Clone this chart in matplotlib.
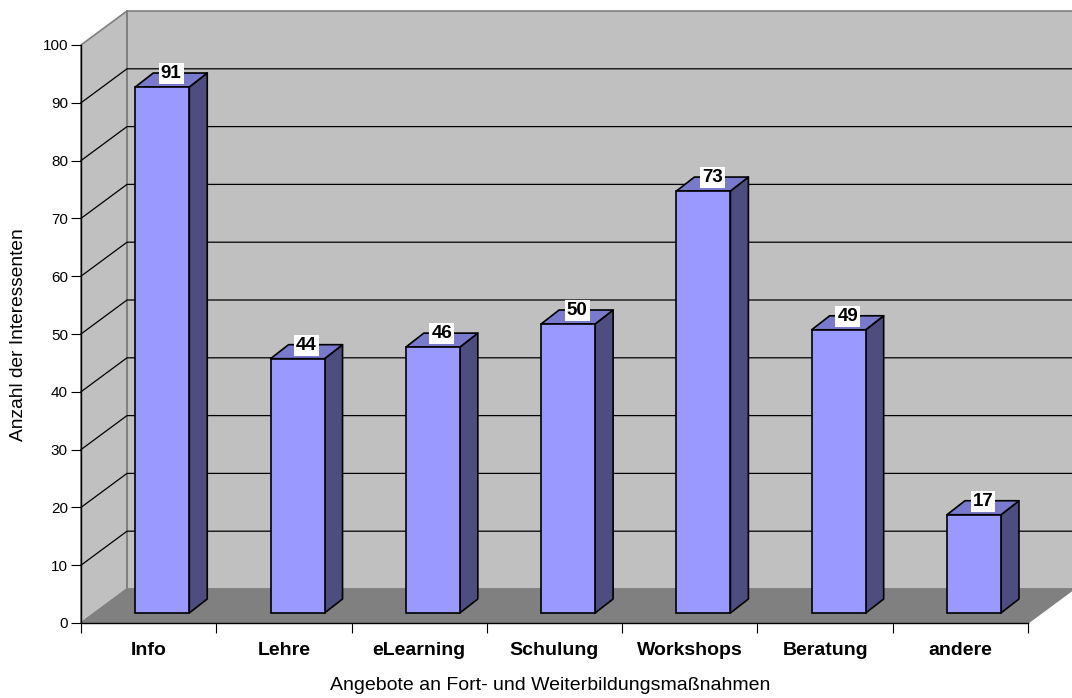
import matplotlib
matplotlib.use("Agg")
import matplotlib.pyplot as plt

plt.rcParams['font.family'] = ['Liberation Sans', 'DejaVu Sans']

categories = ["Info", "Lehre", "eLearning", "Schulung", "Workshops", "Beratung", "andere"]
values = [91, 44, 46, 50, 73, 49, 17]
y_ticks = list(range(0, 101, 10))

W, H = 1072, 698
L, R, T, B = 81, 1028, 45, 623
fig = plt.figure(figsize=(W / 100, H / 100), dpi=100, facecolor='white')
ax = fig.add_axes([L / W, 1 - B / H, (R - L) / W, (B - T) / H])
ax.set_xlim(0, len(categories))
ax.set_ylim(0, 100)
ax.patch.set_visible(False)

px = len(categories) / (R - L)   # data x per pixel
py = 100 / (B - T)               # data y per pixel
DX, DY = 46 * px, 34 * py        # depth of the plot box
bw = 54 * px                     # bar width
bdx, bdy = 18 * px, 14 * py      # bar depth
ox, oy = 13.6 * px, 10 * py      # bar offset inside depth

WALL, FLOOR, EDGE = '#C0C0C0', '#808080', '#808080'
n = len(categories)

# side wall, back wall, floor
ax.fill([0, DX, DX, 0], [0, DY, 100 + DY, 100], fc=WALL, ec=EDGE, lw=1.2, clip_on=False, zorder=1)
ax.fill([DX, n + DX, n + DX, DX], [DY, DY, 100 + DY, 100 + DY], fc=WALL, ec=EDGE, lw=1.2, clip_on=False, zorder=1)
ax.fill([0, n, n + DX, DX], [0, 0, DY, DY], fc=FLOOR, ec=EDGE, lw=1.0, clip_on=False, zorder=1.5)
ax.plot([DX, DX], [DY, 100 + DY], color=EDGE, lw=1.4, clip_on=False, zorder=1.6)

# gridlines
for v in y_ticks[1:-1]:
    ax.plot([0, DX, n + DX], [v, v + DY, v + DY], color='black', lw=0.9, clip_on=False, zorder=2)

# bars
for i, (c, v) in enumerate(zip(categories, values)):
    x0 = i + 0.5 + ox - bw / 2
    x1 = x0 + bw
    y0, y1 = oy, oy + v
    ax.fill([x1, x1 + bdx, x1 + bdx, x1], [y0, y0 + bdy, y1 + bdy, y1],
            fc='#4D4D80', ec='black', lw=1.2, clip_on=False, zorder=3, joinstyle='round')
    ax.fill([x0, x1, x1 + bdx, x0 + bdx], [y1, y1, y1 + bdy, y1 + bdy],
            fc='#7A7ACC', ec='black', lw=1.2, clip_on=False, zorder=3, joinstyle='round')
    ax.bar(x0, v, width=bw, bottom=y0, align='edge', color='#9999FF', edgecolor='black',
           linewidth=1.2, clip_on=False, zorder=3.1)
    ax.text(x0 + bw / 2 + bdx / 2, y1 + bdy - 0.8 * py, str(v), ha='center', va='center',
            fontsize=13.5, fontweight='bold', color='black', zorder=5, clip_on=False,
            bbox=dict(fc='white', ec='none', pad=1.5))

# axes
for s in ('top', 'right'):
    ax.spines[s].set_visible(False)
for s in ('left', 'bottom'):
    ax.spines[s].set_color('black')
    ax.spines[s].set_linewidth(1.0)
    ax.spines[s].set_zorder(2.5)
ax.set_yticks(y_ticks)
ax.tick_params(axis='y', length=7.2, width=0.8, labelsize=11, pad=2.2)
ax.set_xticks(range(n + 1))
ax.set_xticklabels([])
ax.set_xticks([i + 0.5 for i in range(n)], minor=True)
ax.set_xticklabels(categories, minor=True, fontsize=14, fontweight='bold')
ax.tick_params(axis='x', which='major', length=7.2, width=0.8)
ax.tick_params(axis='x', which='minor', length=0, pad=14)
ax.set_xlabel("Angebote an Fort- und Weiterbildungsmaßnahmen", fontsize=14)
ax.set_ylabel("Anzahl der Interessenten", fontsize=13.8)
ax.xaxis.set_label_coords((550 - L) / (R - L), -(686 - B) / (B - T))
ax.yaxis.set_label_coords((19 - L) / (R - L), (B - 335) / (B - T))
ax.xaxis.label.set_va('center')
ax.yaxis.label.set_va('center')

fig.savefig('out.png', dpi=100, facecolor='white')
